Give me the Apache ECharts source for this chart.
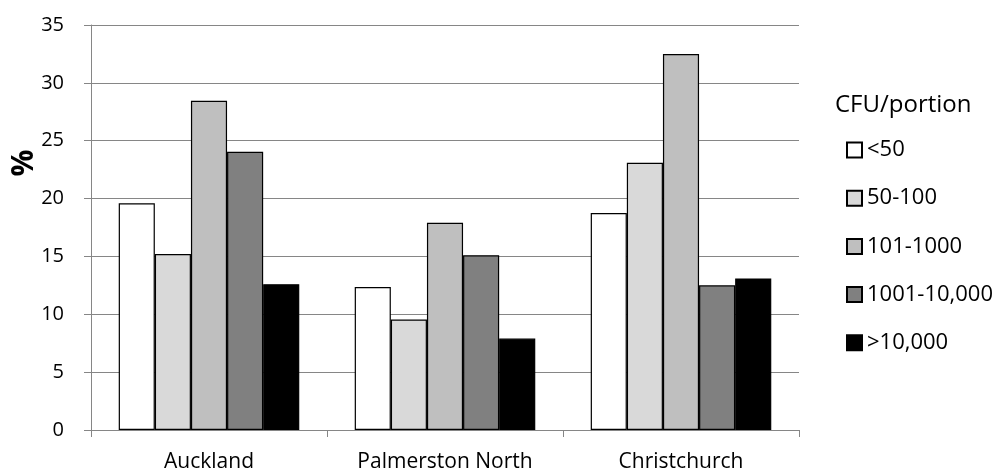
<!DOCTYPE html>
<html>
<head>
<meta charset="utf-8">
<script src="https://cdn.jsdelivr.net/npm/echarts@6/dist/echarts.min.js"></script>
<style>
  html, body { margin: 0; padding: 0; background: #ffffff; }
  #chart { width: 1002px; height: 476px; }
</style>
</head>
<body>
<div id="chart"></div>
<script>
// Share of samples (%) by bacterial count band, per city
const cities = ['Auckland', 'Palmerston North', 'Christchurch'];
const bands = ['<50', '50-100', '101-1000', '1001-10,000', '>10,000'];
const under50 = [19.6, 12.35, 18.75];
const from50to100 = [15.2, 9.55, 23.1];
const from101to1000 = [28.45, 17.9, 32.5];
const from1001to10000 = [24.05, 15.1, 12.5];
const over10000 = [12.6, 7.9, 13.1];
const yTicks = [0, 5, 10, 15, 20, 25, 30, 35];

const bandValues = [under50, from50to100, from101to1000, from1001to10000, over10000];
const bandFills = ['#ffffff', '#d9d9d9', '#bfbfbf', '#808080', '#000000'];

const FONT = '"Open Sans", "Liberation Sans", sans-serif';

const chart = echarts.init(document.getElementById('chart'), null, { renderer: 'canvas' });

chart.setOption({
  animation: false,
  backgroundColor: '#ffffff',
  textStyle: { fontFamily: FONT, color: '#000000' },
  title: {
    text: 'CFU/portion',
    left: 830,
    top: 88,
    textStyle: { fontFamily: FONT, fontSize: 24, fontWeight: 'normal', color: '#000000' }
  },
  // rotated y-axis unit label
  graphic: [{
    type: 'text',
    x: 24,
    y: 163,
    rotation: Math.PI / 2,
    style: {
      text: '%',
      font: 'bold 30px ' + FONT,
      fill: '#000000',
      align: 'center',
      verticalAlign: 'middle'
    }
  }],
  legend: {
    orient: 'vertical',
    left: 841,
    top: 133,
    itemWidth: 15,
    itemHeight: 15,
    itemGap: 24.2,
    icon: 'rect',
    selectedMode: false,
    textStyle: { fontFamily: FONT, fontSize: 22, color: '#000000', lineHeight: 24 },
    data: bands
  },
  grid: { left: 91, right: 203, top: 25, bottom: 46, containLabel: false, outerBoundsMode: 'none' },
  xAxis: {
    type: 'category',
    data: cities,
    boundaryGap: true,
    axisLine: { show: true, lineStyle: { color: '#868686', width: 1 } },
    axisTick: { show: true, length: 7, lineStyle: { color: '#868686' } },
    axisLabel: { fontFamily: FONT, fontSize: 21, color: '#000000', margin: 22 }
  },
  yAxis: {
    type: 'value',
    min: yTicks[0],
    max: yTicks[yTicks.length - 1],
    interval: yTicks[1] - yTicks[0],
    axisLine: { show: true, lineStyle: { color: '#868686', width: 1 } },
    axisTick: { show: true, length: 7, lineStyle: { color: '#868686' } },
    axisLabel: { fontFamily: FONT, fontSize: 20, color: '#000000', margin: 27 },
    splitLine: { show: true, lineStyle: { color: '#868686', width: 1 } }
  },
  series: bands.map((band, i) => ({
    name: band,
    type: 'bar',
    data: bandValues[i],
    barGap: '0%',
    barCategoryGap: '23.5%',
    itemStyle: { color: bandFills[i], borderColor: '#000000', borderWidth: 1.2 }
  }))
});
</script>
</body>
</html>
